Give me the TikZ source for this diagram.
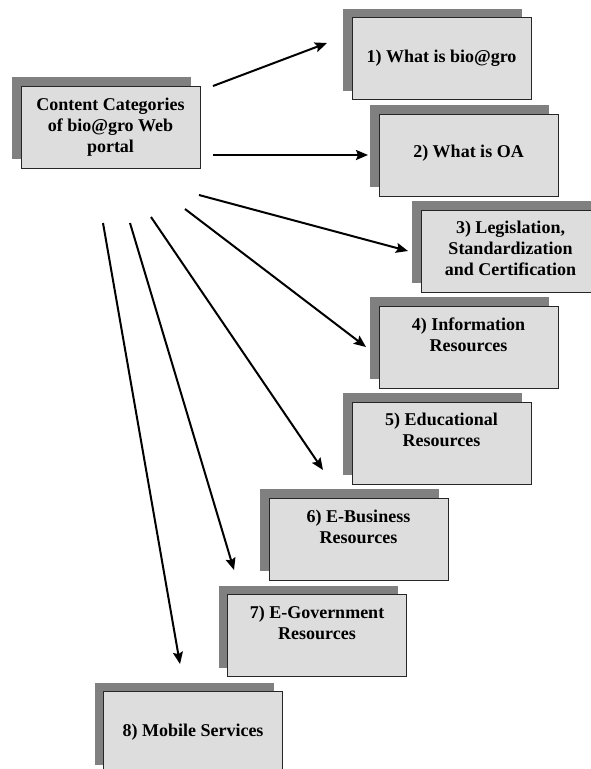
\documentclass[tikz,border=0pt]{standalone}
\usepackage{fontspec}
\setmainfont{Liberation Serif}
\usetikzlibrary{arrows.meta,shadows}
\definecolor{boxgray}{HTML}{DDDDDD}
\definecolor{shadowgray}{HTML}{808080}
\tikzset{
  catbox/.style={draw=black!85, line width=1pt, fill=boxgray,
    minimum width=179pt, minimum height=82pt,
    drop shadow={shadow xshift=-9pt, shadow yshift=9pt, fill=shadowgray, opacity=1}},
  cattext/.style={align=center, inner sep=0pt, font=\fontsize{18}{21}\selectfont\bfseries},
  catarrow/.style={line width=2pt, -{Stealth[length=12pt,width=10pt,inset=2pt]}}
}
\begin{document}
\begin{tikzpicture}[x=1pt,y=-1pt]
\useasboundingbox (0,0) rectangle (590,769);
% boxes
\node[catbox] (main) at (110.5,127) {};
\node[catbox] (b1) at (441.5,58.5) {};
\node[catbox] (b2) at (468.5,155) {};
\node[catbox] (b3) at (510.5,251) {};
\node[catbox] (b4) at (468.5,347) {};
\node[catbox] (b5) at (441.5,443) {};
\node[catbox] (b6) at (358.5,539) {};
\node[catbox] (b7) at (317,635.5) {};
\node[catbox] (b8) at (193,732.5) {};
% texts
\node[cattext] (tmain) at (main.center) {Content Categories\\of bio@gro Web\\portal};
\node[cattext] (t1) at (b1.center) {1) What is bio@gro};
\node[cattext] (t2) at ([yshift=2pt]b2.center) {2) What is OA};
\node[cattext] (t3) at ([yshift=3pt]b3.center) {3) Legislation,\\Standardization\\and Certification};
\node[cattext] (t4) at ([yshift=12pt]b4.center) {4) Information\\Resources};
\node[cattext] (t5) at ([yshift=13pt]b5.center) {5) Educational\\Resources};
\node[cattext] (t6) at ([yshift=12pt]b6.center) {6) E-Business\\Resources};
\node[cattext] (t7) at ([yshift=13pt]b7.center) {7) E-Government\\Resources};
\node[cattext] (t8) at (b8.center) {8) Mobile Services};
% arrow ends
\coordinate (from1) at (213,86);
\coordinate (to1) at (327,43);
\coordinate (from2) at (213,155);
\coordinate (to2) at (368,155);
\coordinate (from3) at (199,195);
\coordinate (to3) at (408,251);
\coordinate (from4) at (185,209);
\coordinate (to4) at (366,347);
\coordinate (from5) at (151,217);
\coordinate (to5) at (323,470);
\coordinate (from6) at (130,223);
\coordinate (to6) at (234,570);
\coordinate (from7) at (103,223);
\coordinate (to7) at (180,664);
% arrows
\draw[catarrow] (from1) -- (to1);
\draw[catarrow] (from2) -- (to2);
\draw[catarrow] (from3) -- (to3);
\draw[catarrow] (from4) -- (to4);
\draw[catarrow] (from5) -- (to5);
\draw[catarrow] (from6) -- (to6);
\draw[catarrow] (from7) -- (to7);
\end{tikzpicture}
\end{document}
